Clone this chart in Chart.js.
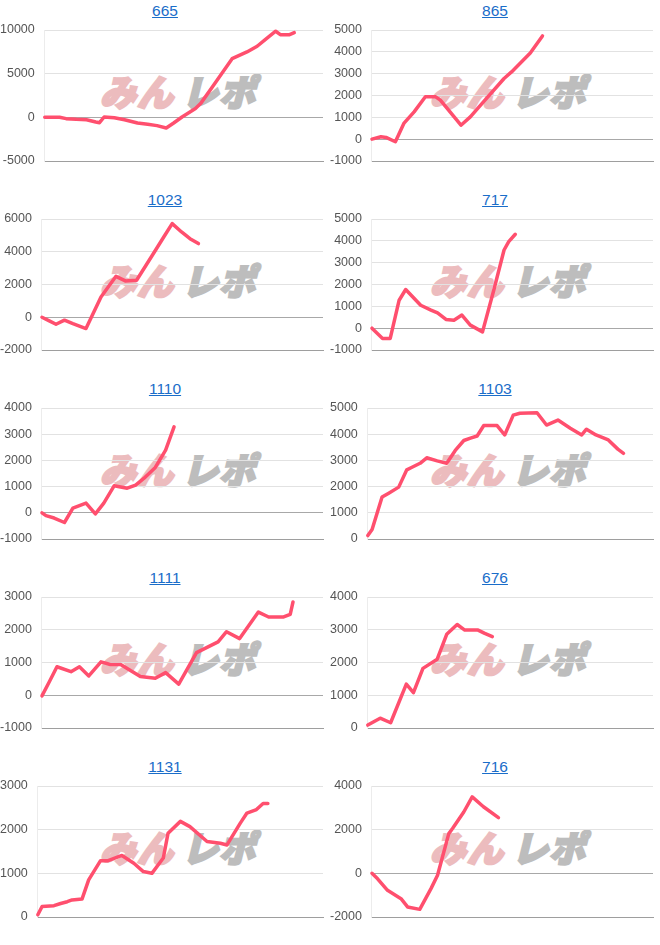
<!DOCTYPE html>
<html>
<head>
<meta charset="utf-8">
<script src="https://cdn.jsdelivr.net/npm/chart.js@4.4.1/dist/chart.umd.min.js"></script>
<style>
  body { margin: 0; background: #fff; width: 660px; height: 945px; position: relative; overflow: hidden; }
  .cell { position: absolute; width: 330px; height: 189px; }
  .cell a { position: absolute; top: 2px; left: 0; width: 330px; text-align: center; font: 15.5px "Liberation Sans", Arial, sans-serif; color: #1a6dc9; text-decoration: underline; }
  .mark { position: absolute; left: 104px; top: 64px; font: 900 36px "Noto Sans CJK JP", sans-serif; letter-spacing: 1px; transform: skewX(-14deg); white-space: nowrap; }
  .mark .pink { color: #ecbcbe; -webkit-text-stroke: 2.5px #ecbcbe; }
  .mark .gray { color: #bdbdbd; -webkit-text-stroke: 2.5px #bdbdbd; margin-left: 8px; }
  .cell canvas { position: absolute; left: 0; top: 0; }
</style>
</head>
<body>
<script>
// chart titles (machine numbers), left-to-right, top-to-bottom
const titles = ['665', '865', '1023', '717', '1110', '1103', '1111', '676', '1131', '716'];

// x position = day slot on a 0..30 axis, y = balance
const days665 = [0, 1.6, 2.3, 3.4, 4.5, 5.5, 5.9, 6.4, 7.5, 8.6, 10.0, 11.1, 12.1, 13.1, 13.9, 14.8, 16.25, 16.8, 18.2, 20.2, 21.8, 22.9, 23.9, 24.9, 25.4, 26.4, 26.9];
const vals665 = [0, 0, -150, -230, -270, -530, -610, 40, -40, -270, -650, -800, -950, -1220, -650, 40, 1000, 1570, 3670, 6720, 7490, 8140, 9020, 9860, 9470, 9470, 9700];

const days865 = [0, 0.96, 1.5, 2.5, 3.4, 4.5, 5.7, 6.8, 7.3, 9.5, 10.5, 11.9, 14.1, 14.9, 16.9, 18.2];
const vals865 = [0, 110, 80, -120, 720, 1250, 1940, 1940, 1790, 640, 1020, 1710, 2780, 3080, 3950, 4730];

const days1023 = [0, 0.78, 1.5, 2.4, 3.3, 4.7, 6.3, 7.9, 8.9, 10.1, 11.9, 13, 13.9, 14.9, 15.8, 16.7];
const vals1023 = [0, -220, -430, -180, -390, -690, 1240, 2500, 2220, 2260, 3890, 4900, 5720, 5210, 4800, 4500];

const days717 = [0, 1.13, 1.95, 2.9, 3.6, 5.2, 6.3, 7, 7.9, 8.75, 9.6, 10.5, 11.8, 13, 14.1, 14.6, 15.3];
const vals717 = [0, -470, -470, 1280, 1770, 1050, 830, 700, 400, 360, 600, 140, -170, 1740, 3580, 3960, 4300];

const days1110 = [0, 0.43, 1.3, 2.4, 3.3, 4.7, 5.7, 6.6, 7.7, 9.1, 10, 10.9, 12.1, 13.2, 14.1];
const vals1110 = [0, -110, -200, -370, 180, 370, -40, 370, 1030, 940, 1060, 1320, 1730, 2390, 3280];

const days1103 = [0, 0.45, 1.5, 2.2, 3.25, 4.1, 4.65, 5.5, 6.2, 7.3, 8.3, 9.2, 10.1, 10.8, 11.5, 12.2, 13.6, 14.4, 15.3, 16, 17.8, 18.8, 20, 21.3, 22.5, 23, 24, 25.3, 26.3, 26.9];
const vals1103 = [130, 360, 1600, 1750, 1980, 2640, 2740, 2890, 3100, 2980, 2890, 3380, 3760, 3850, 3930, 4330, 4330, 3970, 4730, 4800, 4820, 4350, 4540, 4230, 3970, 4190, 3970, 3780, 3430, 3270];

const days1111 = [0, 0.8, 1.6, 3.1, 4, 5, 6.3, 7.3, 8.4, 10.5, 12.1, 13.2, 14.6, 16.5, 18.8, 19.7, 21.1, 23.1, 24.2, 25.8, 26.5, 26.8];
const vals1111 = [-20, 420, 870, 720, 870, 590, 1020, 940, 940, 570, 520, 690, 340, 1300, 1630, 1940, 1730, 2540, 2390, 2390, 2470, 2850];

const days676 = [0, 1.3, 2.4, 4.05, 4.8, 5.8, 7.3, 8.3, 9.4, 10.2, 11.6, 12.3, 13.1];
const vals676 = [90, 300, 160, 1340, 1080, 1820, 2100, 2860, 3160, 2990, 2990, 2890, 2790];

const days1131 = [0, 0.45, 1.7, 2.4, 3.1, 3.6, 4.65, 5.35, 6.6, 7.4, 8.85, 10.1, 11.1, 12, 13.2, 13.7, 15, 16, 17.8, 19.2, 19.9, 21.3, 22, 23, 23.7, 24.2];
const vals1131 = [50, 240, 260, 310, 350, 390, 410, 850, 1290, 1290, 1410, 1230, 1040, 1000, 1350, 1920, 2190, 2070, 1730, 1690, 1650, 2150, 2380, 2460, 2600, 2600];

const days716 = [0, 0.6, 1.66, 3.1, 3.8, 5.1, 6.3, 7, 8.2, 8.6, 9.8, 10.7, 11.9, 13.5];
const vals716 = [0, -250, -780, -1160, -1540, -1650, -700, -90, 1820, 2050, 2810, 3500, 3050, 2550];

// y axis ranges: [min, max, step]
const yRanges = [
    [-5000, 10000, 5000], [-1000, 5000, 1000],
    [-2000, 6000, 2000], [-1000, 5000, 1000],
    [-1000, 4000, 1000], [0, 5000, 1000],
    [-1000, 3000, 1000], [0, 4000, 1000],
    [0, 3000, 1000], [-2000, 4000, 2000]
];

const series = [
    [days665, vals665], [days865, vals865],
    [days1023, vals1023], [days717, vals717],
    [days1110, vals1110], [days1103, vals1103],
    [days1111, vals1111], [days676, vals676],
    [days1131, vals1131], [days716, vals716]
];

const lineColor = '#ff4f6e';

titles.forEach(function (title, i) {
    const cell = document.createElement('div');
    cell.className = 'cell';
    cell.style.left = (i % 2) * 330 + 'px';
    cell.style.top = Math.floor(i / 2) * 189 + 'px';
    cell.innerHTML = '<a href="#">' + title + '</a>' +
        '<div class="mark"><span class="pink">みん</span><span class="gray">レポ</span></div>' +
        '<canvas width="330" height="189"></canvas>';
    document.body.appendChild(cell);

    const [xs, ys] = series[i];
    const points = xs.map((x, k) => ({ x: x, y: ys[k] }));
    const [yMin, yMax, yStep] = yRanges[i];

    new Chart(cell.querySelector('canvas'), {
        type: 'line',
        data: {
            datasets: [{
                data: points,
                borderColor: lineColor,
                borderWidth: 3.5,
                borderCapStyle: 'round',
                borderJoinStyle: 'round',
                pointRadius: 0,
                tension: 0,
                clip: false
            }]
        },
        options: {
            responsive: false,
            animation: false,
            devicePixelRatio: 1,
            layout: { padding: { top: 30, bottom: 28, left: 0, right: 7 } },
            plugins: { legend: { display: false }, tooltip: { enabled: false } },
            scales: {
                x: {
                    type: 'linear',
                    min: 0,
                    max: 30,
                    grid: { display: false, drawTicks: false },
                    ticks: { display: false },
                    border: { color: '#9e9e9e', width: 1 }
                },
                y: {
                    min: yMin,
                    max: yMax,
                    // chart.js reserves the tick padding twice; keep it only on the axis side
                    afterFit: scale => { scale.width -= 10; },
                    ticks: {
                        stepSize: yStep,
                        padding: 10,
                        color: '#555',
                        font: { family: '"Liberation Sans", Arial', size: 12.5 },
                        callback: v => String(v)
                    },
                    grid: {
                        drawTicks: false,
                        color: ctx => ctx.tick && ctx.tick.value === 0 ? '#a8a8a8' : '#e2e2e2'
                    },
                    border: { color: '#ececec' }
                }
            }
        }
    });
});
</script>
</body>
</html>
